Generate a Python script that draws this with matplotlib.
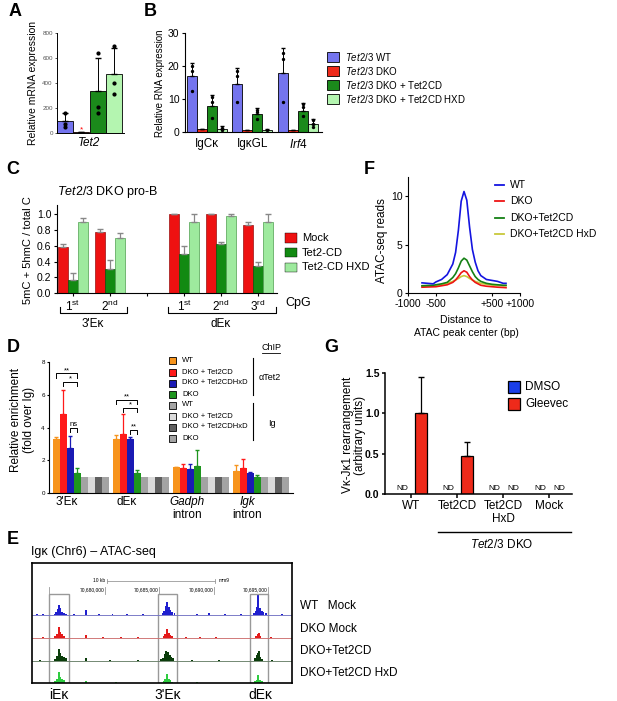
import matplotlib.pyplot as plt
from matplotlib.patches import Rectangle
from matplotlib.lines import Line2D
import numpy as np

plt.rcParams['font.family'] = ['Liberation Sans', 'DejaVu Sans']
plt.rcParams['mathtext.fontset'] = 'custom'
plt.rcParams['mathtext.rm'] = 'Liberation Sans'
plt.rcParams['mathtext.it'] = 'Liberation Sans:italic'
plt.rcParams['mathtext.bf'] = 'Liberation Sans:bold'

# ---------------- data ----------------
# A: Tet2 mRNA
a_groups = ["WT", "DKO", "DKO + Tet2CD", "DKO + Tet2CD HXD"]
a_mean = [100, 5, 335, 475]
a_top = [160, 5, 600, 680]
a_dots = [[160, 70, 50], [], [640, 210, 160], [700, 400, 315]]

# B: RNA expression
b_genes = ["IgCκ", "IgκGL", "$\\it{Irf4}$"]
b_series = ["$\\it{Tet2/3}$ WT", "$\\it{Tet2/3}$ DKO", "$\\it{Tet2/3}$ DKO + Tet2CD", "$\\it{Tet2/3}$ DKO + Tet2CD HXD"]
b_mean = [[17.0, 14.6, 17.8], [0.8, 0.6, 0.6], [8.0, 5.5, 6.3], [1.0, 0.6, 2.4]]
b_top = [[20.8, 19.5, 25.5], [0.9, 0.7, 0.7], [11.3, 7.2, 8.8], [1.7, 0.9, 3.9]]
b_dots = [[[20, 18.5, 12.5], [18.5, 17, 9], [24, 22, 9]],
          [[], [], []],
          [[10.5, 9, 4.2], [6.8, 6, 4], [8.5, 7.5, 4.7]],
          [[1.3, 0.5], [0.6], [3.5, 2.5, 1.5]]]

# C: methylation
c_ticks = ["1$^{\\rm st}$", "2$^{\\rm nd}$", "", "1$^{\\rm st}$", "2$^{\\rm nd}$", "3$^{\\rm rd}$"]
c_pos = [0, 1, 3, 4, 5]
c_series = ["Mock", "Tet2-CD", "Tet2-CD HXD"]
c_mean = [[0.59, 0.78, 1.00, 1.00, 0.87],
          [0.17, 0.30, 0.50, 0.62, 0.35],
          [0.90, 0.70, 0.90, 0.98, 0.91]]
c_err = [[0.03, 0.03, 0.0, 0.0, 0.03],
         [0.08, 0.12, 0.10, 0.03, 0.05],
         [0.05, 0.07, 0.10, 0.02, 0.09]]

# D: ChIP
d_groups = ["3'Eκ", "dEκ", "Gadph", "Igk"]
d_labels = ["WT", "DKO + Tet2CD", "DKO + Tet2CDHxD", "DKO", "WT", "DKO + Tet2CD", "DKO + Tet2CDHxD", "DKO"]
d_mean = [[3.3, 4.8, 2.75, 1.2, 1.0, 1.0, 1.0, 1.0],
          [3.3, 3.6, 3.3, 1.2, 1.0, 1.0, 1.0, 1.0],
          [1.6, 1.5, 1.45, 1.65, 1.0, 1.0, 1.0, 1.0],
          [1.35, 1.55, 1.25, 0.95, 1.0, 1.0, 1.0, 1.0]]
d_top = [[3.45, 6.3, 3.5, 1.55],
         [3.55, 4.8, 3.4, 1.4],
         [1.6, 1.8, 1.8, 2.6],
         [1.7, 2.05, 1.3, 1.1]]

# E: ATAC-seq browser tracks (position kb, height)
e_rows = ["WT   Mock", "DKO Mock", "DKO+Tet2CD", "DKO+Tet2CD HxD"]
e_peaks = [
    [(673.8, 1), (674.3, 1.5), (675.4, 1.5), (675.55, 3), (675.7, 6), (675.8, 10), (675.9, 7), (676.05, 3),
     (676.2, 2), (676.4, 1), (677.2, 1), (678.3, 5), (679.5, 1), (680.7, 1), (682.0, 1), (683.5, 1),
     (685.3, 2), (685.45, 4), (685.6, 9), (685.7, 13), (685.85, 8), (686.0, 5), (686.15, 3), (686.4, 2),
     (688.5, 1), (689.6, 2), (691.0, 1), (692.5, 1), (693.7, 2), (693.85, 4), (694.0, 8), (694.1, 20),
     (694.25, 7), (694.4, 4), (694.55, 3), (694.8, 2), (696.3, 1.5)],
    [(674.3, 0.8), (675.45, 2), (675.6, 4), (675.75, 11), (675.9, 6), (676.05, 4), (676.2, 2),
     (678.3, 3), (679.8, 0.8), (681.5, 0.8), (683.0, 0.8), (685.4, 2), (685.55, 4), (685.7, 9),
     (685.85, 5), (686.0, 3), (686.2, 2), (687.5, 1), (688.7, 1), (690.2, 0.8), (693.9, 2), (694.05, 4),
     (694.15, 5), (694.3, 2), (695.3, 0.8)],
    [(674.0, 0.8), (675.45, 2), (675.6, 5), (675.75, 12), (675.9, 8), (676.05, 5), (676.2, 4), (676.4, 3),
     (678.3, 3), (680.5, 0.8), (683.0, 0.8), (685.2, 2), (685.35, 3), (685.5, 7), (685.65, 10),
     (685.8, 9), (685.95, 6), (686.1, 4), (686.25, 3), (688.0, 0.8), (690.5, 0.8), (693.8, 3),
     (693.95, 6), (694.05, 8), (694.15, 10), (694.3, 4), (694.45, 2), (695.4, 0.8)],
    [(675.45, 2), (675.6, 4), (675.75, 11), (675.9, 6), (676.05, 4), (676.2, 3), (678.3, 2), (681.0, 0.6),
     (685.4, 2), (685.55, 4), (685.7, 9), (685.85, 4), (686.0, 3), (686.2, 1.5), (688.5, 0.6),
     (693.8, 2), (693.95, 3), (694.1, 8), (694.25, 3), (694.4, 2)],
]
e_boxes = [(674.9, 676.7), (684.9, 686.6), (693.3, 695.0)]
e_coords = [680, 685, 690, 695]

# F: ATAC profile
f_x = [-750, -650, -550, -500, -400, -300, -200, -150, -100, -50, 0, 50, 100, 150, 200, 250, 300, 400, 500, 600, 700, 750]
f_wt = [1.05, 1.0, 0.95, 1.15, 1.4, 1.9, 3.0, 4.2, 6.5, 9.5, 10.5, 9.6, 6.8, 4.5, 3.2, 2.3, 1.8, 1.4, 1.3, 1.2, 1.0, 1.0]
f_dko = [0.6, 0.62, 0.64, 0.65, 0.75, 0.85, 1.1, 1.35, 1.7, 2.1, 2.3, 2.15, 1.7, 1.35, 1.1, 0.95, 0.8, 0.7, 0.65, 0.6, 0.57, 0.55]
f_cd = [0.75, 0.78, 0.8, 0.85, 0.95, 1.1, 1.6, 2.0, 2.6, 3.3, 3.6, 3.4, 2.8, 2.2, 1.7, 1.4, 1.2, 1.0, 0.9, 0.85, 0.8, 0.8]
f_hxd = [0.7, 0.72, 0.75, 0.78, 0.85, 1.0, 1.2, 1.35, 1.5, 1.7, 1.8, 1.7, 1.5, 1.35, 1.2, 1.1, 1.0, 0.9, 0.82, 0.78, 0.75, 0.75]
f_labels = ["WT", "DKO", "DKO+Tet2CD", "DKO+Tet2CD HxD"]

# G: rearrangement
g_groups = ["WT", "Tet2CD", "Tet2CD\nHxD", "Mock"]
g_gleevec = [1.0, 0.47, None, None]
g_gleevec_top = [1.45, 0.65, None, None]
g_dmso = [None, None, None, None]

# ---------------- layout helpers ----------------
W, H = 617, 701
fig = plt.figure(figsize=(W / 100, H / 100), dpi=100)


def add_ax(l, t, r, b):
    return fig.add_axes([l / W, 1 - b / H, (r - l) / W, (b - t) / H])


def ftext(x, y, s, **kw):
    kw.setdefault('va', 'center')
    fig.text(x / W, 1 - y / H, s, **kw)


def fline(xs, ys, **kw):
    fig.add_artist(Line2D([x / W for x in xs], [1 - y / H for y in ys], transform=fig.transFigure, **kw))


def fpatch(x0, y0, x1, y1, color, lw=0.6):
    fig.add_artist(Rectangle((x0 / W, 1 - y1 / H), (x1 - x0) / W, (y1 - y0) / H,
                             facecolor=color, edgecolor='black', lw=lw, transform=fig.transFigure))


def style(ax, lw=0.8, size=7.5):
    for s in ['top', 'right']:
        ax.spines[s].set_visible(False)
    ax.spines['left'].set_linewidth(lw)
    ax.spines['bottom'].set_linewidth(lw)
    ax.tick_params(width=lw, length=2.5, labelsize=size, pad=1.5)


def label(x, y, s):
    ftext(x, y, s, ha='center', fontsize=13, fontweight='bold')


c_blue, c_red, c_dg, c_lg = '#7474ee', '#ee2a1a', '#1b8a1b', '#b4f5b0'

# ---------------- A ----------------
label(15, 11, "A")
ax = add_ax(57, 33, 124, 133)
style(ax, 0.7, 4.5)
xa = np.arange(4)
ax.bar(xa, a_mean, width=0.98, color=[c_blue, c_red, c_dg, c_lg], edgecolor='black', lw=0.6)
ax.errorbar(xa, a_mean, yerr=[np.zeros(4), np.array(a_top) - np.array(a_mean)], fmt='none',
            ecolor='black', capsize=2, elinewidth=0.7)
for i, d in enumerate(a_dots):
    ax.scatter([i] * len(d), d, s=4, color='black', zorder=3)
ax.text(1, 12, '*', color='red', ha='center', fontsize=6)
ax.set_xlim(-0.49, 3.6)
ax.set_ylim(0, 800)
ax.set_yticks([0, 200, 400, 600, 800])
ax.tick_params(axis='y', colors='#555555', length=1.5)
ax.set_xticks([1.45])
ax.set_xticklabels(["Tet2"], fontsize=8.5, style='italic')
ax.tick_params(axis='x', length=0, pad=3)
ftext(33, 83, "Relative mRNA expression", ha='center', rotation=90, fontsize=7.5)

# ---------------- B ----------------
label(150, 11, "B")
ax = add_ax(185, 33, 322, 132)
style(ax, 0.8, 7.5)
xb = np.arange(3)
bw = 0.22
colsB = [c_blue, c_red, c_dg, c_lg]
for k in range(4):
    xs = xb + (k - 1.5) * bw
    ax.bar(xs, b_mean[k], width=bw, color=colsB[k], edgecolor='black', lw=0.6)
    ax.errorbar(xs, b_mean[k], yerr=[np.zeros(3), np.array(b_top[k]) - np.array(b_mean[k])],
                fmt='none', ecolor='black', capsize=1.5, elinewidth=0.7)
    for j in range(3):
        ax.scatter([xs[j]] * len(b_dots[k][j]), b_dots[k][j], s=2, color='black', zorder=3)
ax.set_xlim(-0.48, 2.53)
ax.set_ylim(0, 30)
ax.set_yticks([0, 10, 20, 30])
ax.set_xticks(xb)
ax.set_xticklabels(b_genes, fontsize=8.5)
ax.tick_params(axis='x', length=0, pad=4)
ftext(160, 83, "Relative RNA expression", ha='center', rotation=90, fontsize=7)
for k in range(4):
    y = 57 + 14 * k
    fpatch(327, y - 4.5, 339, y + 4.5, colsB[k])
    ftext(345, y, b_series[k], ha='left', fontsize=7)

# ---------------- C ----------------
label(13, 169, "C")
ftext(57, 192, "$\\it{Tet2/3}$ DKO pro-B", ha='left', fontsize=9)
ax = add_ax(57, 205, 277, 293)
style(ax, 0.8, 7.5)
colsC = ['#ee1111', '#128a12', '#9eea9e']
edC = ['#991111', '#0a500a', '#4f9f4f']
cw = 0.27
for k in range(3):
    xs = np.array(c_pos) + (k - 1) * cw
    ax.bar(xs, c_mean[k], width=cw, color=colsC[k], edgecolor=edC[k], lw=0.5)
    ax.errorbar(xs, c_mean[k], yerr=[np.zeros(5), c_err[k]], fmt='none', ecolor='#888888',
                capsize=2.5, elinewidth=0.9)
ax.set_xlim(-0.43, 5.51)
ax.set_ylim(0, 1.12)
ax.set_yticks(np.arange(0, 1.01, 0.2))
ax.set_yticklabels(["0.0", "0.2", "0.4", "0.6", "0.8", "1.0"])
ax.set_xticks(range(6))
ax.set_xticklabels(c_ticks, fontsize=8.5)
ax.tick_params(axis='x', pad=2)
ftext(28, 250, "5mC + 5hmC / total C", ha='center', rotation=90, fontsize=8)
ftext(285, 303, "CpG", ha='left', fontsize=9)
fline([60, 60, 127, 127], [307, 313, 313, 307], color='black', lw=0.8)
fline([168, 168, 276, 276], [307, 313, 313, 307], color='black', lw=0.8)
ftext(93, 324, "3'Eκ", ha='center', fontsize=8.5)
ftext(221, 324, "dEκ", ha='center', fontsize=8.5)
for k in range(3):
    y = 238 + 14.5 * k
    fpatch(285, y - 4.5, 297, y + 4.5, colsC[k], lw=0.3)
    ftext(302, y, c_series[k], ha='left', fontsize=8)

# ---------------- F ----------------
label(369, 170, "F")
ax = add_ax(408, 177, 520, 293)
style(ax, 0.8, 7.5)
colsF = ['#1414e0', '#ee1414', '#148014', '#c8c83a']
for ys, c in zip([f_hxd, f_dko, f_cd, f_wt], [colsF[3], colsF[1], colsF[2], colsF[0]]):
    ax.plot(f_x, ys, color=c, lw=1.2)
ax.set_xlim(-1000, 1000)
ax.set_ylim(0, 12)
ax.set_yticks([0, 5, 10])
ax.set_xticks([-1000, -500, 500, 1000])
ax.set_xticklabels(["-1000", "-500", "+500", "+1000"])
ftext(382, 241, "ATAC-seq reads", ha='center', rotation=90, fontsize=8.5)
ftext(466, 320, "Distance to", ha='center', fontsize=7.5)
ftext(466, 333, "ATAC peak center (bp)", ha='center', fontsize=7.5)
for k in range(4):
    y = 185 + 16.3 * k
    fline([495, 504], [y, y], color=colsF[k], lw=1.3)
    ftext(510, y, f_labels[k], ha='left', fontsize=7.5)

# ---------------- D ----------------
label(13, 347, "D")
ax = add_ax(49, 362, 293, 493)
style(ax, 0.8, 4.5)
colsD = ['#f7941d', '#ff1a1a', '#1a1ab4', '#1e951e', '#a3a3a3', '#dadada', '#5f5f5f', '#a3a3a3']
gs = 8.57
for g in range(4):
    xs = g * gs + np.arange(8)
    ax.bar(xs, d_mean[g], width=0.98, color=colsD, lw=0)
    for i in range(4):
        ax.errorbar([xs[i]], [d_mean[g][i]], yerr=[[0], [d_top[g][i] - d_mean[g][i]]], fmt='none',
                    ecolor=colsD[i], capsize=1.2, elinewidth=0.9)
ax.set_xlim(-1.07, 33.8)
ax.set_ylim(0, 8)
ax.set_yticks([0, 2, 4, 6, 8])
ax.set_xticks([])
ax.tick_params(axis='y', length=1.5)


def bracket(x0, x1, y, txt, dy=0.25):
    ax.plot([x0, x0, x1, x1], [y - dy, y, y, y - dy], color='black', lw=0.7)
    ax.text((x0 + x1) / 2, y - 0.05, txt, ha='center', va='bottom', fontsize=5.5)


bracket(0, 3, 7.3, "**")
bracket(1, 3, 6.8, "*")
bracket(2, 3, 4.0, "ns")
bracket(gs, gs + 3, 5.7, "**")
bracket(gs + 1, gs + 3, 5.2, "*")
bracket(gs + 2, gs + 3, 3.85, "**")
tr = ax.get_xaxis_transform()
ax.text(1.5, -0.07, "3'Eκ", transform=tr, ha='center', va='center', fontsize=8.5)
ax.text(gs + 1.5, -0.07, "dEκ", transform=tr, ha='center', va='center', fontsize=8.5)
ax.text(2 * gs + 1.5, -0.07, "Gadph", transform=tr, ha='center', va='center', fontsize=8.5, style='italic')
ax.text(2 * gs + 1.5, -0.17, "intron", transform=tr, ha='center', va='center', fontsize=8.5)
ax.text(3 * gs + 1.5, -0.07, "Igk", transform=tr, ha='center', va='center', fontsize=8.5, style='italic')
ax.text(3 * gs + 1.5, -0.17, "intron", transform=tr, ha='center', va='center', fontsize=8.5)
ftext(16, 420, "Relative enrichment", ha='center', rotation=90, fontsize=8.5)
ftext(29, 420, "(fold over Ig)", ha='center', rotation=90, fontsize=8.5)
for i in range(8):
    y = 361 + 11 * i
    fpatch(169, y - 3.5, 176, y + 3.5, colsD[i], lw=0.6)
    ftext(182, y, d_labels[i], ha='left', fontsize=5.5)
fline([253, 253], [358, 395], color='black', lw=0.8)
fline([253, 253], [403, 440], color='black', lw=0.8)
ftext(259, 378, "αTet2", ha='left', fontsize=6.5)
ftext(268, 423, "Ig", ha='left', fontsize=6.5)
ftext(271, 348, "ChIP", ha='center', fontsize=6.5)
fline([262, 280], [353, 353], color='black', lw=0.6)

# ---------------- G ----------------
label(331, 347, "G")
ax = add_ax(385, 373, 572, 494)
style(ax, 1.1, 7.5)
xg = np.arange(4)
gw = 0.24
off = 0.207
for i in range(4):
    if g_dmso[i] is None:
        ax.text(xg[i] - off, 0.03, "ND", ha='center', va='bottom', fontsize=6)
    if g_gleevec[i] is None:
        ax.text(xg[i] + off, 0.03, "ND", ha='center', va='bottom', fontsize=6)
    else:
        ax.bar(xg[i] + off, g_gleevec[i], width=gw, color='#ee2a1a', edgecolor='black', lw=0.9)
        ax.errorbar([xg[i] + off], [g_gleevec[i]], yerr=[[0], [g_gleevec_top[i] - g_gleevec[i]]],
                    fmt='none', ecolor='black', capsize=2.5, elinewidth=0.9)
ax.set_xlim(-0.576, 3.49)
ax.set_ylim(0, 1.5)
ax.set_yticks([0, 0.5, 1.0, 1.5])
ax.set_yticklabels(["0.0", "0.5", "1.0", "1.5"], fontweight='bold')
ax.set_xticks(xg)
ax.set_xticklabels(g_groups, fontsize=8.5, linespacing=1.1)
ax.tick_params(axis='x', length=3)
ftext(348, 435, "Vκ-Jκ1 rearrangement", ha='center', rotation=90, fontsize=8.5)
ftext(360, 435, "(arbitrary units)", ha='center', rotation=90, fontsize=8.5)
fpatch(508, 381, 520, 393, '#1a3ee8', lw=0.9)
fpatch(508, 398, 520, 410, '#ee2a1a', lw=0.9)
ftext(525, 387, "DMSO", ha='left', fontsize=8.5)
ftext(525, 404, "Gleevec", ha='left', fontsize=8.5)
fline([438, 571], [532, 532], color='black', lw=1.0)
ftext(502, 545, "$\\it{Tet2/3}$ DKO", ha='center', fontsize=8.5)

# ---------------- E ----------------
label(13, 540, "E")
ftext(31, 552, "Igκ (Chr6) – ATAC-seq", ha='left', fontsize=9)
ax = add_ax(32, 563, 292, 683)
ax.set_xlim(673.3, 697.2)
ax.set_ylim(0, 120)
ax.set_xticks([])
ax.set_yticks([])
for s in ax.spines.values():
    s.set_linewidth(1.2)
colsE = ['#1f1fcf', '#e41a1a', '#0b3d0b', '#2ecc40']
bases = [68, 45, 22, 0]
for k in range(4):
    ax.axhline(bases[k], color='#bbbbbb', lw=0.6)
    ax.axhline(bases[k] + 0.5, color=colsE[k], lw=0.5, alpha=0.6)
    px = [p for p, h in e_peaks[k]]
    ph = [h for p, h in e_peaks[k]]
    ax.bar(px, ph, width=0.18, bottom=bases[k], color=colsE[k], lw=0)
for x0, x1 in e_boxes:
    ax.add_patch(Rectangle((x0, 0), x1 - x0, 89, fill=False, edgecolor='#999999', lw=1.0))
ax.plot([680.18, 690.1], [102, 102], color='#999999', lw=0.6)
ax.plot([680.18, 680.18], [100, 104], color='#999999', lw=0.6)
ax.plot([690.1, 690.1], [100, 104], color='#999999', lw=0.6)
ax.text(680.0, 102, "10 kb", ha='right', va='center', fontsize=3.5)
ax.text(690.5, 102, "mm9", ha='left', va='center', fontsize=3.5)
ax.plot([674.9, 674.9], [89, 96], color='#999999', lw=0.6)
for c in e_coords:
    ax.plot([c, c], [89, 96], color='#999999', lw=0.6)
    ax.text(c - 0.05, 93, "70,%d,000" % c, ha='right', va='center', fontsize=3.5)
for k in range(4):
    ftext(300, 606 + 22.5 * k, e_rows[k], ha='left', fontsize=8.5)
ftext(59, 695, "iEκ", ha='center', fontsize=10)
ftext(168, 695, "3'Eκ", ha='center', fontsize=10)
ftext(260, 695, "dEκ", ha='center', fontsize=10)

fig.savefig("out.png", dpi=100)
